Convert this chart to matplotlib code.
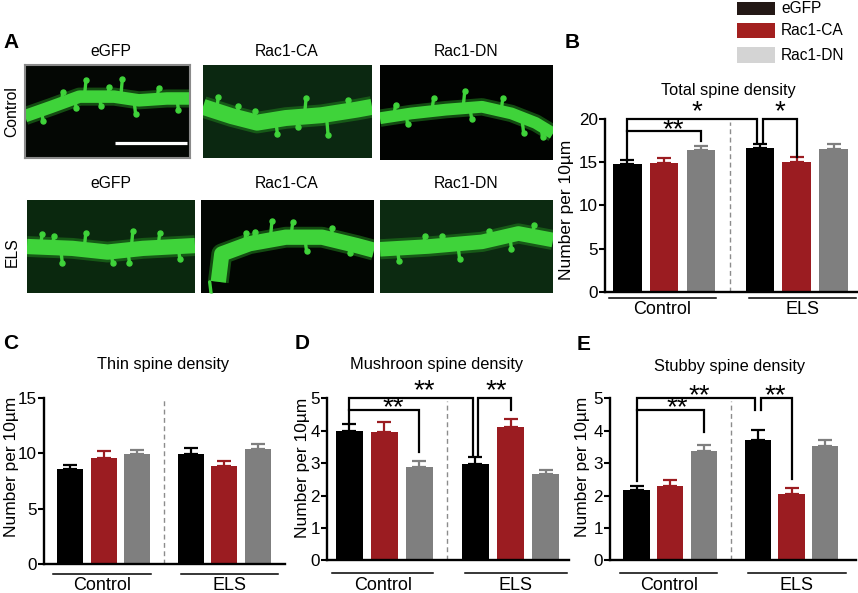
import numpy as np
import matplotlib
matplotlib.use('Agg')
import matplotlib.pyplot as plt
from matplotlib.patches import Rectangle

# ------------------------------------------------------------------ data
groups = ['Control', 'ELS']
conditions = ['eGFP', 'Rac1-CA', 'Rac1-DN']

total_mean = [14.75, 14.95, 16.45, 16.6, 15.05, 16.55]
total_sem = [0.5, 0.5, 0.45, 0.5, 0.5, 0.5]
thin_mean = [8.58, 9.55, 9.9, 9.9, 8.83, 10.36]
thin_sem = [0.37, 0.65, 0.4, 0.55, 0.47, 0.44]
mush_mean = [4.0, 3.96, 2.89, 2.97, 4.1, 2.65]
mush_sem = [0.2, 0.32, 0.19, 0.21, 0.27, 0.15]
stub_mean = [2.17, 2.29, 3.38, 3.7, 2.05, 3.53]
stub_sem = [0.13, 0.18, 0.18, 0.31, 0.17, 0.18]

# --------------------------------------------------------------- styling
W, H, DPI = 858, 593, 100
bar_colors = ['#000000', '#9b1c21', '#7f7f7f'] * 2
legend_colors = ['#231815', '#a3201f', '#d4d4d4']
positions = [0, 1, 2, 3.6, 4.6, 5.6]
bar_w = 0.78

plt.rcParams['font.family'] = ['Liberation Sans', 'DejaVu Sans']
title_font = dict(fontsize=11.8)

fig = plt.figure(figsize=(W / DPI, H / DPI), dpi=DPI)
fig.patch.set_facecolor('white')


def fx(x):
    return x / W


def fy(y):
    return 1 - y / H


def axes_px(left, top, right, bottom):
    return fig.add_axes([fx(left), fy(bottom), (right - left) / W, (bottom - top) / H])


# ---------------------------------------------------------- panel A images
img_boxes = [
    (25, 65, 190, 158), (203, 65, 372, 158), (380, 65, 553, 160),
    (27, 200, 195, 293), (201, 200, 374, 293), (380, 200, 553, 293),
]
img_bg = ['#040704', '#0b2811', '#010301', '#0a280e', '#020602', '#0c2a11']
dend_x = [
    [0, 0.16, 0.33, 0.54, 0.69, 0.86, 1.0],
    [0, 0.17, 0.32, 0.49, 0.7, 0.91, 1.0],
    [0, 0.18, 0.38, 0.59, 0.76, 0.9, 1.0],
    [0, 0.27, 0.48, 0.69, 1.0],
    [0.1, 0.12, 0.28, 0.49, 0.7, 0.9, 1.0],
    [0, 0.28, 0.59, 0.8, 1.0],
]
dend_y = [
    [0.45, 0.55, 0.66, 0.66, 0.62, 0.64, 0.64],
    [0.55, 0.45, 0.38, 0.43, 0.46, 0.52, 0.55],
    [0.44, 0.49, 0.53, 0.56, 0.49, 0.39, 0.28],
    [0.5, 0.48, 0.44, 0.48, 0.51],
    [0.12, 0.42, 0.53, 0.6, 0.6, 0.51, 0.46],
    [0.47, 0.5, 0.55, 0.64, 0.57],
]
dend_lw = [9, 11.5, 8.5, 11, 11, 10.5]
spine_x = [
    [0.1, 0.22, 0.36, 0.45, 0.58, 0.66, 0.8, 0.92, 0.5, 0.3],
    [0.08, 0.2, 0.43, 0.6, 0.73, 0.85, 0.55, 0.3],
    [0.08, 0.15, 0.3, 0.48, 0.52, 0.7, 0.82, 0.93],
    [0.08, 0.2, 0.34, 0.5, 0.62, 0.78, 0.9, 0.15, 0.6],
    [0.05, 0.25, 0.4, 0.52, 0.6, 0.75, 0.85, 0.3],
    [0.1, 0.25, 0.45, 0.62, 0.75, 0.88, 0.35],
]
spine_len = [
    [-0.12, 0.12, 0.18, -0.1, 0.2, -0.15, 0.12, -0.12, 0.1, -0.1],
    [0.15, 0.12, -0.15, 0.2, -0.22, 0.12, -0.1, 0.12],
    [0.12, -0.1, 0.14, 0.18, -0.12, 0.14, -0.16, -0.12],
    [0.14, -0.16, 0.18, -0.12, 0.2, 0.16, -0.14, 0.12, -0.14],
    [-0.15, 0.14, 0.2, 0.16, -0.15, 0.12, -0.1, 0.12],
    [-0.14, 0.12, -0.16, 0.1, -0.15, 0.12, 0.1],
]
green = '#3fd33a'
for i, (l, t, r, b) in enumerate(img_boxes):
    a = axes_px(l, t, r, b)
    a.set_facecolor(img_bg[i])
    a.set_xlim(0, 1)
    a.set_ylim(0, 1)
    a.set_xticks([])
    a.set_yticks([])
    for s in a.spines.values():
        s.set_visible(i == 0)
        s.set_color('#8a8a8a')
        s.set_linewidth(1.5)
    a.plot(dend_x[i], dend_y[i], color='#1f7a1c', lw=dend_lw[i] + 4, alpha=0.6,
           solid_capstyle='butt', solid_joinstyle='round')
    a.plot(dend_x[i], dend_y[i], color=green, lw=dend_lw[i],
           solid_capstyle='butt', solid_joinstyle='round')
    for sx, sl in zip(spine_x[i], spine_len[i]):
        base = np.interp(sx, dend_x[i], dend_y[i])
        a.plot([sx, sx + 0.01], [base, base + sl], color=green, lw=2.4,
               solid_capstyle='round')
        a.plot([sx + 0.01], [base + sl], 'o', color=green, ms=3.6)
    if i == 0:
        a.plot([0.545, 0.98], [0.16, 0.16], color='white', lw=2.3, solid_capstyle='butt')

img_labels_x = [111, 287, 466]
for row_y in (52, 184):
    for lx, lab in zip(img_labels_x, conditions):
        fig.text(fx(lx), fy(row_y), lab, ha='center', va='center', fontsize=11.3)
fig.text(fx(12), fy(112), 'Control', rotation=90, ha='center', va='center', fontsize=11.3)
fig.text(fx(12), fy(252), 'ELS', rotation=90, ha='center', va='center', fontsize=11.3)

# ---------------------------------------------------------------- legend
leg_y = [(2, 15), (23, 38), (47, 63)]
for (t, b), c, lab in zip(leg_y, legend_colors, conditions):
    fig.patches.append(Rectangle((fx(737), fy(b)), 38 / W, (b - t) / H,
                                 transform=fig.transFigure, color=c, lw=0))
    fig.text(fx(781), fy((t + b) / 2), lab, ha='left', va='center', fontsize=11.2)

# ------------------------------------------------------------ bar panels
panels = [
    dict(box=(605, 119, 857, 291.7), xlim=(-0.6, 6.23), ylim=(0, 20), ticks=[0, 5, 10, 15, 20],
         mean=total_mean, sem=total_sem, title='Total spine density', title_xy=(728, 90),
         line_py=298, label_py=310, ylab_xy=(567, 210), letter='B', letter_xy=(565, 48),
         brackets=[(0, 3.52, 20, 15.3, 17.2), (3.68, 4.6, 20, 17.2, 15.65), (0, 2, 18.65, 18.65, 17.4)],
         stars=[(1.9, 21.2, '*'), (4.15, 21.2, '*'), (1.25, 19.2, '**')]),
    dict(box=(44, 398, 285, 564), xlim=(-0.78, 6.41), ylim=(0, 15), ticks=[0, 5, 10, 15],
         mean=thin_mean, sem=thin_sem, title='Thin spine density', title_xy=(163, 365),
         line_py=574, label_py=586, ylab_xy=(12, 467), letter='C', letter_xy=(3, 349),
         brackets=[], stars=[]),
    dict(box=(327, 398.3, 569, 560.3), xlim=(-0.64, 6.27), ylim=(0, 5), ticks=[0, 1, 2, 3, 4, 5],
         mean=mush_mean, sem=mush_sem, title='Mushroon spine density', title_xy=(437, 365),
         line_py=573, label_py=586, ylab_xy=(302, 468), letter='D', letter_xy=(295, 349),
         brackets=[(0, 3.53, 5, 4.2, 3.25), (3.67, 4.6, 5, 3.25, 4.64), (0, 2, 4.64, 4.64, 3.35)],
         stars=[(2.15, 5.35, '**'), (4.2, 5.35, '**'), (1.25, 4.8, '**')]),
    dict(box=(610, 398.3, 856, 560.3), xlim=(-0.79, 6.51), ylim=(0, 5), ticks=[0, 1, 2, 3, 4, 5],
         mean=stub_mean, sem=stub_sem, title='Stubby spine density', title_xy=(730, 367),
         line_py=573, label_py=586, ylab_xy=(583, 467), letter='E', letter_xy=(577, 350),
         brackets=[(0, 3.52, 5, 2.45, 4.64), (3.68, 4.6, 5, 4.64, 2.52), (0, 2, 4.64, 4.64, 3.97)],
         stars=[(1.85, 5.18, '**'), (4.12, 5.18, '**'), (1.2, 4.8, '**')]),
]

group_span = [(-0.5, 2.4), (3.3, 6.2)]
star_fs = 20

for p in panels:
    l, t, r, b = p['box']
    ax = axes_px(l, t, r, b)
    ax.set_xlim(*p['xlim'])
    ax.set_ylim(*p['ylim'])
    ymax = p['ylim'][1]
    ax.bar(positions, p['mean'], width=bar_w, color=bar_colors, lw=0, zorder=2)
    for x, m, s, c in zip(positions, p['mean'], p['sem'], bar_colors):
        ax.errorbar([x], [m], yerr=[[0], [s]], fmt='none', ecolor=c, elinewidth=1.6,
                    capsize=5, capthick=1.6, zorder=1)
    ax.plot([2.8, 2.8], [0, ymax * 0.985], color='#8c8c8c', lw=1.0, dashes=(3.5, 2.5), zorder=0)
    for s in ('top', 'right'):
        ax.spines[s].set_visible(False)
    for s in ('left', 'bottom'):
        ax.spines[s].set_linewidth(1.7)
    ax.set_xticks([])
    ax.set_yticks(p['ticks'])
    ax.tick_params(axis='y', direction='out', length=4, width=1.5, labelsize=12.3, pad=1)
    ax.set_facecolor('none')

    ay_line = (b - p['line_py']) / (b - t)
    ay_lab = (b - p['label_py']) / (b - t)
    for (x0, x1), g in zip(group_span, groups):
        ax.plot([x0, x1], [ay_line, ay_line], color='k', lw=1.1,
                transform=ax.get_xaxis_transform(), clip_on=False)
        ax.text((x0 + x1) / 2, ay_lab, g, transform=ax.get_xaxis_transform(),
                ha='center', va='center', fontsize=13)

    for (x1, x2, yb, y1, y2) in p['brackets']:
        ax.plot([x1, x1, x2, x2], [y1, yb, yb, y2], color='k', lw=1.6, clip_on=False,
                solid_joinstyle='miter', zorder=3)
    for (sx, sy, st) in p['stars']:
        ax.annotate(st, (sx, sy), xytext=(0, -0.39 * star_fs), textcoords='offset points',
                    ha='center', va='baseline', fontsize=star_fs, annotation_clip=False)

    fig.text(fx(p['title_xy'][0]), fy(p['title_xy'][1]), p['title'],
             ha='center', va='center', **title_font)
    fig.text(fx(p['ylab_xy'][0]), fy(p['ylab_xy'][1]), 'Number per 10µm', rotation=90,
             ha='center', va='center', fontsize=12.5)
    fig.text(fx(p['letter_xy'][0]), fy(p['letter_xy'][1]), p['letter'], ha='left',
             va='baseline', fontsize=15, fontweight='bold')

fig.text(fx(3), fy(48), 'A', ha='left', va='baseline', fontsize=15, fontweight='bold')

fig.savefig('out.png', dpi=DPI, facecolor='white')
